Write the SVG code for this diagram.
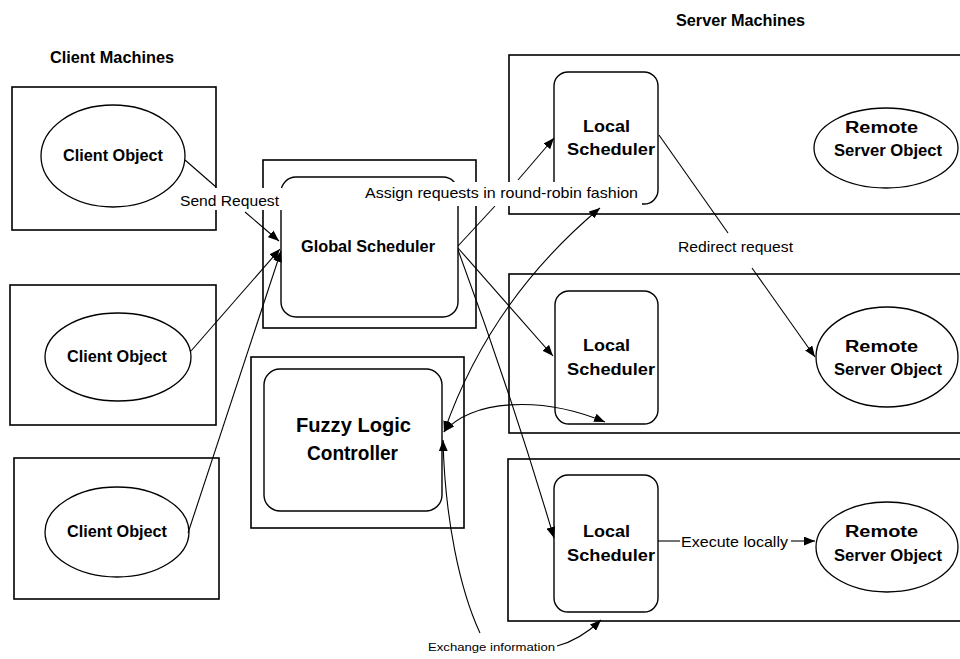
<svg xmlns="http://www.w3.org/2000/svg" width="960" height="659" viewBox="0 0 960 659">
<style>
.box{fill:none;stroke:#000;stroke-width:1.6}
.rbox{fill:none;stroke:#000;stroke-width:1.4}
.ell{fill:none;stroke:#000;stroke-width:1.3}
.con{fill:none;stroke:#000;stroke-width:1.1}
.t{font-family:"Liberation Sans Narrow","Liberation Sans",Arial,sans-serif;font-weight:bold;fill:#000;text-anchor:start}
.l{font-family:"Liberation Sans Narrow","Liberation Sans",Arial,sans-serif;fill:#000}
.bg{fill:#fff}
</style>
<defs>
<marker id="ah" viewBox="0 0 10 8" refX="10" refY="4" markerWidth="11" markerHeight="9" markerUnits="userSpaceOnUse" orient="auto-start-reverse">
<path d="M0,0 L10,4 L0,8 z" fill="#000"/>
</marker>
</defs>
<rect width="960" height="659" fill="#fff"/>

<g id="titles">
<text class="t" x="50" y="63" font-size="16" textLength="124" lengthAdjust="spacingAndGlyphs">Client Machines</text>
<text class="t" x="676" y="26" font-size="16" textLength="129" lengthAdjust="spacingAndGlyphs">Server Machines</text>
</g>

<g id="client1">
<rect class="box" x="12" y="87" width="204" height="143"/>
<ellipse class="ell" cx="113" cy="156" rx="72" ry="51"/>
<text class="t" x="63" y="161" font-size="16" textLength="100" lengthAdjust="spacingAndGlyphs">Client Object</text>
</g>
<g id="client2">
<rect class="box" x="10" y="285" width="206" height="140"/>
<ellipse class="ell" cx="118" cy="357" rx="73" ry="44"/>
<text class="t" x="67" y="362" font-size="16" textLength="100" lengthAdjust="spacingAndGlyphs">Client Object</text>
</g>
<g id="client3">
<rect class="box" x="14" y="458" width="205" height="141"/>
<ellipse class="ell" cx="117" cy="532" rx="72" ry="45"/>
<text class="t" x="67" y="537" font-size="16" textLength="100" lengthAdjust="spacingAndGlyphs">Client Object</text>
</g>

<g id="global">
<rect class="box" x="263" y="160" width="213" height="168"/>
<rect class="rbox" x="281" y="177" width="177" height="140" rx="15"/>
<text class="t" x="301" y="252" font-size="16" textLength="134" lengthAdjust="spacingAndGlyphs">Global Scheduler</text>
</g>

<g id="fuzzy">
<rect class="box" x="251" y="357" width="213" height="171"/>
<rect class="rbox" x="264" y="369" width="178" height="142" rx="16"/>
<text class="t" x="296" y="432" font-size="21" textLength="115" lengthAdjust="spacingAndGlyphs">Fuzzy Logic</text>
<text class="t" x="307" y="460" font-size="21" textLength="91" lengthAdjust="spacingAndGlyphs">Controller</text>
</g>

<g id="server1">
<rect class="box" x="509" y="55" width="460" height="159"/>
<rect class="rbox" x="554" y="72" width="104" height="132" rx="14"/>
<text class="t" x="583" y="132" font-size="17" textLength="47" lengthAdjust="spacingAndGlyphs">Local</text>
<text class="t" x="567" y="155" font-size="17" textLength="88" lengthAdjust="spacingAndGlyphs">Scheduler</text>
<ellipse class="ell" cx="886" cy="148" rx="72" ry="40"/>
<text class="t" x="845" y="133" font-size="16" textLength="73" lengthAdjust="spacingAndGlyphs">Remote</text>
<text class="t" x="834" y="156" font-size="16" textLength="108" lengthAdjust="spacingAndGlyphs">Server Object</text>
</g>

<g id="server2">
<rect class="box" x="509" y="274" width="460" height="159"/>
<rect class="rbox" x="555" y="291" width="103" height="133" rx="14"/>
<text class="t" x="583" y="351" font-size="17" textLength="47" lengthAdjust="spacingAndGlyphs">Local</text>
<text class="t" x="567" y="375" font-size="17" textLength="88" lengthAdjust="spacingAndGlyphs">Scheduler</text>
<ellipse class="ell" cx="887" cy="357" rx="71" ry="50"/>
<text class="t" x="845" y="352" font-size="16" textLength="73" lengthAdjust="spacingAndGlyphs">Remote</text>
<text class="t" x="834" y="375" font-size="16" textLength="108" lengthAdjust="spacingAndGlyphs">Server Object</text>
</g>

<g id="server3">
<rect class="box" x="508" y="459" width="460" height="162"/>
<rect class="rbox" x="554" y="475" width="104" height="137" rx="14"/>
<text class="t" x="583" y="537" font-size="17" textLength="47" lengthAdjust="spacingAndGlyphs">Local</text>
<text class="t" x="567" y="561" font-size="17" textLength="88" lengthAdjust="spacingAndGlyphs">Scheduler</text>
<ellipse class="ell" cx="887" cy="547" rx="71" ry="45"/>
<text class="t" x="845" y="537" font-size="16" textLength="73" lengthAdjust="spacingAndGlyphs">Remote</text>
<text class="t" x="834" y="561" font-size="16" textLength="108" lengthAdjust="spacingAndGlyphs">Server Object</text>
</g>

<g id="connectors">
<path class="con" d="M185,160 L216,187"/>
<path class="con" d="M245,212 L279,241" marker-end="url(#ah)"/>
<path class="con" d="M191,351 L280,249" marker-end="url(#ah)"/>
<path class="con" d="M188,533 L281,251" marker-end="url(#ah)"/>
<path class="con" d="M458,246 L495,206"/>
<path class="con" d="M518,180 L554,138" marker-end="url(#ah)"/>
<path class="con" d="M458,248 L553,356" marker-end="url(#ah)"/>
<path class="con" d="M458,250 Q510,390 554,538" marker-end="url(#ah)"/>
<path class="con" d="M600,208 Q490,300 444,432" marker-start="url(#ah)" marker-end="url(#ah)"/>
<path class="con" d="M444,432 C470,400 540,395 605,422" marker-start="url(#ah)" marker-end="url(#ah)"/>
<path class="con" d="M443,440 C445,520 460,590 480,633" marker-start="url(#ah)"/>
<path class="con" d="M557,646 Q580,640 601,620" marker-end="url(#ah)"/>
<path class="con" d="M659,135 L728,233"/>
<path class="con" d="M752,268 L815,357" marker-end="url(#ah)"/>
<path class="con" d="M658,541 L680,541"/>
<path class="con" d="M791,541 L815,541" marker-end="url(#ah)"/>
</g>

<g id="labels">
<rect class="bg" x="178" y="188" width="104" height="22"/>
<text class="l" x="180" y="206" font-size="15" textLength="99" lengthAdjust="spacingAndGlyphs">Send Request</text>
<rect class="bg" x="362" y="182" width="280" height="24"/>
<text class="l" x="365" y="198" font-size="15" textLength="273" lengthAdjust="spacingAndGlyphs">Assign requests in round-robin fashion</text>
<rect class="bg" x="676" y="236" width="120" height="22"/>
<text class="l" x="678" y="252" font-size="15" textLength="115" lengthAdjust="spacingAndGlyphs">Redirect request</text>
<text class="l" x="681" y="547" font-size="15" textLength="107" lengthAdjust="spacingAndGlyphs">Execute locally</text>
<text class="l" x="428" y="651" font-size="11" textLength="127" lengthAdjust="spacingAndGlyphs">Exchange information</text>
</g>
</svg>
